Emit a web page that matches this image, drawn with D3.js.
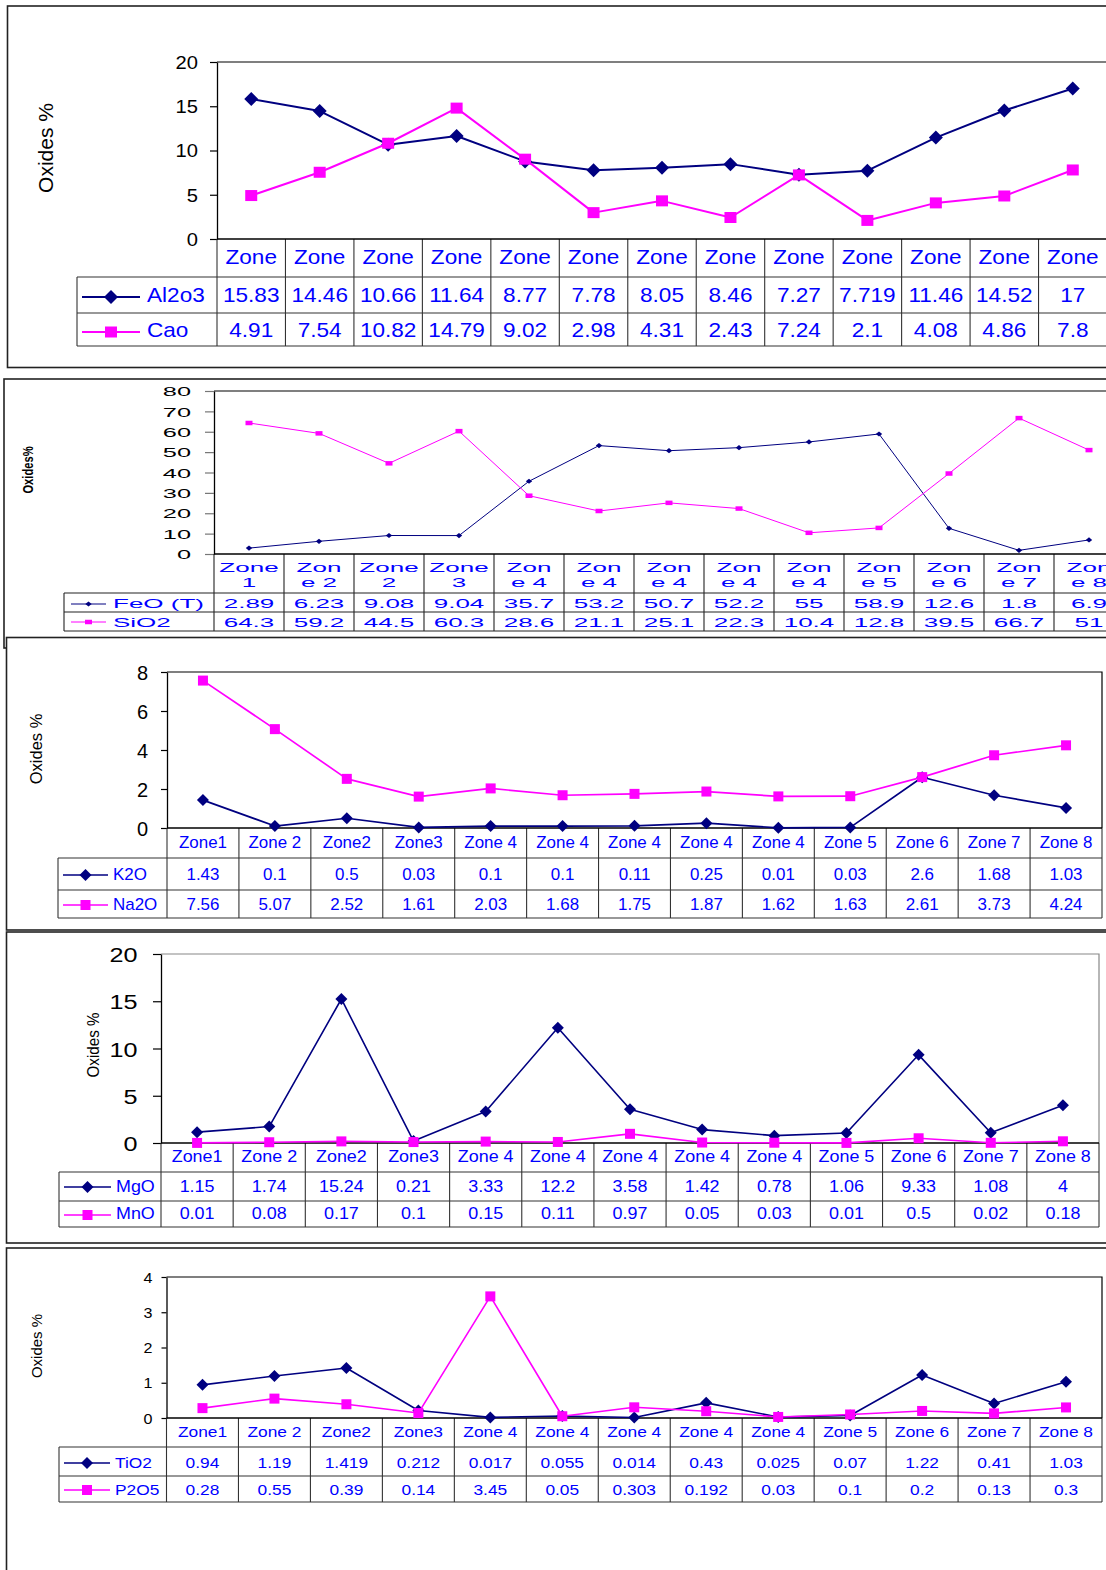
<!DOCTYPE html>
<html><head><meta charset="utf-8">
<script src="https://cdn.jsdelivr.net/npm/d3@7"></script>
<style>
body{margin:0;background:#fff}
svg{display:block}
text{font-family:"Liberation Sans",Arial,Helvetica,sans-serif}
</style>
</head><body>
<svg id="c" width="1106" height="1570"></svg>
<script>
// ---------------- DATA ----------------
const categories = ["Zone1","Zone 2","Zone2","Zone3","Zone 4","Zone 4","Zone 4","Zone 4","Zone 4","Zone 5","Zone 6","Zone 7","Zone 8"];
const catLabelsPanel1 = ["Zone","Zone","Zone","Zone","Zone","Zone","Zone","Zone","Zone","Zone","Zone","Zone","Zone"];
const catLabelsPanel2 = [["Zone","1"],["Zon","e 2"],["Zone","2"],["Zone","3"],["Zon","e 4"],["Zon","e 4"],["Zon","e 4"],["Zon","e 4"],["Zon","e 4"],["Zon","e 5"],["Zon","e 6"],["Zon","e 7"],["Zon","e 8"]];

const al2o3 = [15.83,14.46,10.66,11.64,8.77,7.78,8.05,8.46,7.27,7.719,11.46,14.52,17];
const cao   = [4.91,7.54,10.82,14.79,9.02,2.98,4.31,2.43,7.24,2.1,4.08,4.86,7.8];
const feoT  = [2.89,6.23,9.08,9.04,35.7,53.2,50.7,52.2,55,58.9,12.6,1.8,6.9];
const sio2  = [64.3,59.2,44.5,60.3,28.6,21.1,25.1,22.3,10.4,12.8,39.5,66.7,51];
const k2o   = [1.43,0.1,0.5,0.03,0.1,0.1,0.11,0.25,0.01,0.03,2.6,1.68,1.03];
const na2o  = [7.56,5.07,2.52,1.61,2.03,1.68,1.75,1.87,1.62,1.63,2.61,3.73,4.24];
const mgo   = [1.15,1.74,15.24,0.21,3.33,12.2,3.58,1.42,0.78,1.06,9.33,1.08,4];
const mno   = [0.01,0.08,0.17,0.1,0.15,0.11,0.97,0.05,0.03,0.01,0.5,0.02,0.18];
const tio2  = [0.94,1.19,1.419,0.212,0.017,0.055,0.014,0.43,0.025,0.07,1.22,0.41,1.03];
const p2o5  = [0.28,0.55,0.39,0.14,3.45,0.05,0.303,0.192,0.03,0.1,0.2,0.13,0.3];

const ticks1 = [0,5,10,15,20];
const ticks2 = [0,10,20,30,40,50,60,70,80];
const ticks3 = [0,2,4,6,8];
const ticks4 = [0,5,10,15,20];
const ticks5 = [0,1,2,3,4];

const names1 = ["Al2o3","Cao"];
const names2 = ["FeO (T)","SiO2"];
const names3 = ["K2O","Na2O"];
const names4 = ["MgO","MnO"];
const names5 = ["TiO2","P2O5"];

const yTitle = "Oxides %";
const yTitle2 = "Oxides%";

// ---------------- STYLE / LAYOUT ----------------
const NAVY = "#000080", MAGENTA = "#ff00ff", BLUE = "#0000ff";
const svg = d3.select("#c");

function sText(g, x, y, str, o) {
  return g.append("text")
    .attr("transform", `translate(${x},${y}) scale(${o.sx||1},1)`)
    .attr("text-anchor", o.anchor || "middle")
    .style("font-size", o.size + "px")
    .style("font-weight", o.bold ? "bold" : "normal")
    .attr("fill", o.fill || BLUE)
    .text(str);
}

function marker(g, type, cx, cy, L) {
  if (type === "d") {
    const r = L.dia, ry = L.diaY || L.dia;
    g.append("path").attr("d", `M${cx},${cy-ry}L${cx+r},${cy}L${cx},${cy+ry}L${cx-r},${cy}Z`).attr("fill", NAVY);
  } else {
    const w = L.sq, h = L.sqH || L.sq;
    g.append("rect").attr("x", cx - w/2).attr("y", cy - h/2).attr("width", w).attr("height", h).attr("fill", MAGENTA);
  }
}

function drawPanel(L, cats, series, names, ticks, title) {
  const g = svg.append("g");
  g.append("rect").attr("x", L.frame[0]).attr("y", L.frame[1]).attr("width", L.frame[2]).attr("height", L.frame[3])
    .attr("fill", "#fff").attr("stroke", "#222").attr("stroke-width", 1.6);

  const x = d3.scaleBand().domain(d3.range(cats.length)).range([L.x0, L.x1]);
  const xc = i => x(i) + x.bandwidth() / 2;
  const y = d3.scaleLinear().domain([0, ticks[ticks.length - 1]]).range([L.yBot, L.yTop]);

  // plot area border (top + right)
  g.append("path").attr("d", `M${L.x0},${L.yTop}H${L.x1}V${L.yBot}`)
    .attr("fill", "none").attr("stroke", L.border).attr("stroke-width", 1.2);

  // y axis
  const ax = g.append("g").attr("transform", `translate(${L.x0},0)`)
    .call(d3.axisLeft(y).tickValues(ticks).tickSize(L.tickLen).tickSizeOuter(0).tickFormat(d3.format("d")));
  ax.attr("font-family", null).attr("font-size", null);
  ax.select(".domain").attr("stroke", "#000").attr("stroke-width", 1.3);
  ax.selectAll(".tick line").attr("stroke", L.tickColor || "#000").attr("stroke-width", 1.2);
  ax.selectAll(".tick text")
    .attr("x", null).attr("dy", "0.36em")
    .attr("transform", `translate(${-(L.tickLen + L.tickPad)},0) scale(${L.tickSx},1)`)
    .attr("text-anchor", "end")
    .style("font-size", L.tickFont + "px")
    .style("font-weight", L.tickBold ? "bold" : "normal")
    .attr("fill", "#000");

  // y title
  g.append("text").attr("transform", `translate(${L.titleX},${L.titleY}) rotate(-90) scale(${L.titleSx||1},1)`)
    .attr("text-anchor", "middle").attr("dy", "0.35em")
    .style("font-size", L.titleFont + "px").style("font-weight", L.titleBold ? "bold" : "normal")
    .attr("fill", "#000").text(title);

  // data table grid
  const rows = L.rows;
  const last = rows[rows.length - 1];
  const tg = g.append("g").attr("stroke", L.grid).attr("stroke-width", 1.1);
  tg.selectAll("line.v").data(d3.range(cats.length + 1)).join("line")
    .attr("x1", i => i < cats.length ? x(i) : L.x1).attr("x2", i => i < cats.length ? x(i) : L.x1)
    .attr("y1", L.yBot).attr("y2", last);
  tg.selectAll("line.h").data(rows.slice(1)).join("line")
    .attr("x1", L.legX0).attr("x2", L.x1).attr("y1", d => d).attr("y2", d => d);
  tg.append("line").attr("x1", L.legX0).attr("x2", L.legX0).attr("y1", rows[1]).attr("y2", last);
  g.append("line").attr("x1", L.x0).attr("x2", L.x1).attr("y1", L.yBot).attr("y2", L.yBot)
    .attr("stroke", "#000").attr("stroke-width", 1.3);

  // category labels
  const to = {size: L.textFont, sx: L.textSx, bold: L.textBold};
  cats.forEach((c, i) => {
    const lines = Array.isArray(c) ? c : [c];
    lines.forEach((ln, k) => sText(g, xc(i), L.catBase[k], ln, to));
  });

  // values + legend
  const types = ["d", "s"];
  const colors = [NAVY, MAGENTA];
  series.forEach((s, k) => {
    s.forEach((v, i) => sText(g, xc(i), L.valBase[k], String(v), to));
    g.append("line").attr("x1", L.legLine[0]).attr("x2", L.legLine[1])
      .attr("y1", L.legY[k]).attr("y2", L.legY[k]).attr("stroke", colors[k]).attr("stroke-width", L.lw);
    marker(g, types[k], (L.legLine[0] + L.legLine[1]) / 2, L.legY[k], L);
    sText(g, L.legText, L.valBase[k], names[k], Object.assign({}, to, {anchor: "start"}));
  });

  // lines + markers
  const line = d3.line().x((d, i) => xc(i)).y(d => y(d));
  series.forEach((s, k) => {
    g.append("path").datum(s).attr("d", line).attr("fill", "none")
      .attr("stroke", colors[k]).attr("stroke-width", L.lw).attr("stroke-linejoin", "round");
    s.forEach((v, i) => marker(g, types[k], xc(i), y(v), L));
  });
}

const L1 = {frame:[7.5,6,1140,361.5], x0:217, x1:1107, yTop:62, yBot:239, border:"#000",
  tickLen:7, tickPad:12, tickFont:18, tickSx:1.12,
  titleX:46, titleY:148, titleFont:21,
  legX0:77, rows:[239,277,313,346], grid:"#333",
  catBase:[264], valBase:[302,337], textFont:20, textSx:1.13,
  legLine:[82,140], legY:[297,332], legText:147, lw:2, dia:7, sq:12, sqH:11};
const L2 = {frame:[4,379,1140,269], x0:214, x1:1124, yTop:391, yBot:554, border:"#000",
  tickLen:9, tickPad:14, tickFont:13, tickSx:1.95, tickColor:"#777",
  titleX:28, titleY:470, titleFont:14, titleBold:true, titleSx:0.8,
  legX0:64, rows:[554,593,612,631], grid:"#222",
  catBase:[572,587], valBase:[608,627], textFont:13, textSx:2.0,
  legLine:[71,106], legY:[604,622], legText:113, lw:1, dia:3.2, diaY:2.6, sq:7, sqH:4.5};
const L3 = {frame:[6.5,637.5,1140,292.5], x0:167, x1:1102, yTop:672, yBot:828, border:"#000",
  tickLen:6, tickPad:13, tickFont:20, tickSx:1.0,
  titleX:36, titleY:749, titleFont:16.5,
  legX0:58, rows:[828,858,890,918], grid:"#333",
  catBase:[848], valBase:[880,910], textFont:16, textSx:1.06,
  legLine:[63,108], legY:[875,905], legText:113, lw:1.7, dia:6, sq:10};
const L4 = {frame:[6.5,932,1140,311], x0:161, x1:1099, yTop:954, yBot:1143, border:"#888",
  tickLen:8, tickPad:15.5, tickFont:21, tickSx:1.2,
  titleX:93, titleY:1045, titleFont:16.5, titleSx:0.92,
  legX0:59, rows:[1143,1172,1201,1227], grid:"#333",
  catBase:[1162], valBase:[1192,1219], textFont:16, textSx:1.12,
  legLine:[64,111], legY:[1187,1215], legText:116, lw:1.6, dia:6, sq:10};
const L5 = {frame:[6.5,1248,1140,400], x0:166.5, x1:1102, yTop:1277, yBot:1418, border:"#000",
  tickLen:5, tickPad:9, tickFont:14, tickSx:1.15,
  titleX:37, titleY:1346, titleFont:15,
  legX0:59, rows:[1418,1447,1476,1502], grid:"#333",
  catBase:[1437], valBase:[1468,1495], textFont:15.5, textSx:1.12,
  legLine:[64,110], legY:[1463,1490], legText:115, lw:1.6, dia:6, sq:10};

drawPanel(L1, catLabelsPanel1, [al2o3, cao], names1, ticks1, yTitle);
drawPanel(L2, catLabelsPanel2, [feoT, sio2], names2, ticks2, yTitle2);
drawPanel(L3, categories, [k2o, na2o], names3, ticks3, yTitle);
drawPanel(L4, categories, [mgo, mno], names4, ticks4, yTitle);
drawPanel(L5, categories, [tio2, p2o5], names5, ticks5, yTitle);
</script>
</body></html>
